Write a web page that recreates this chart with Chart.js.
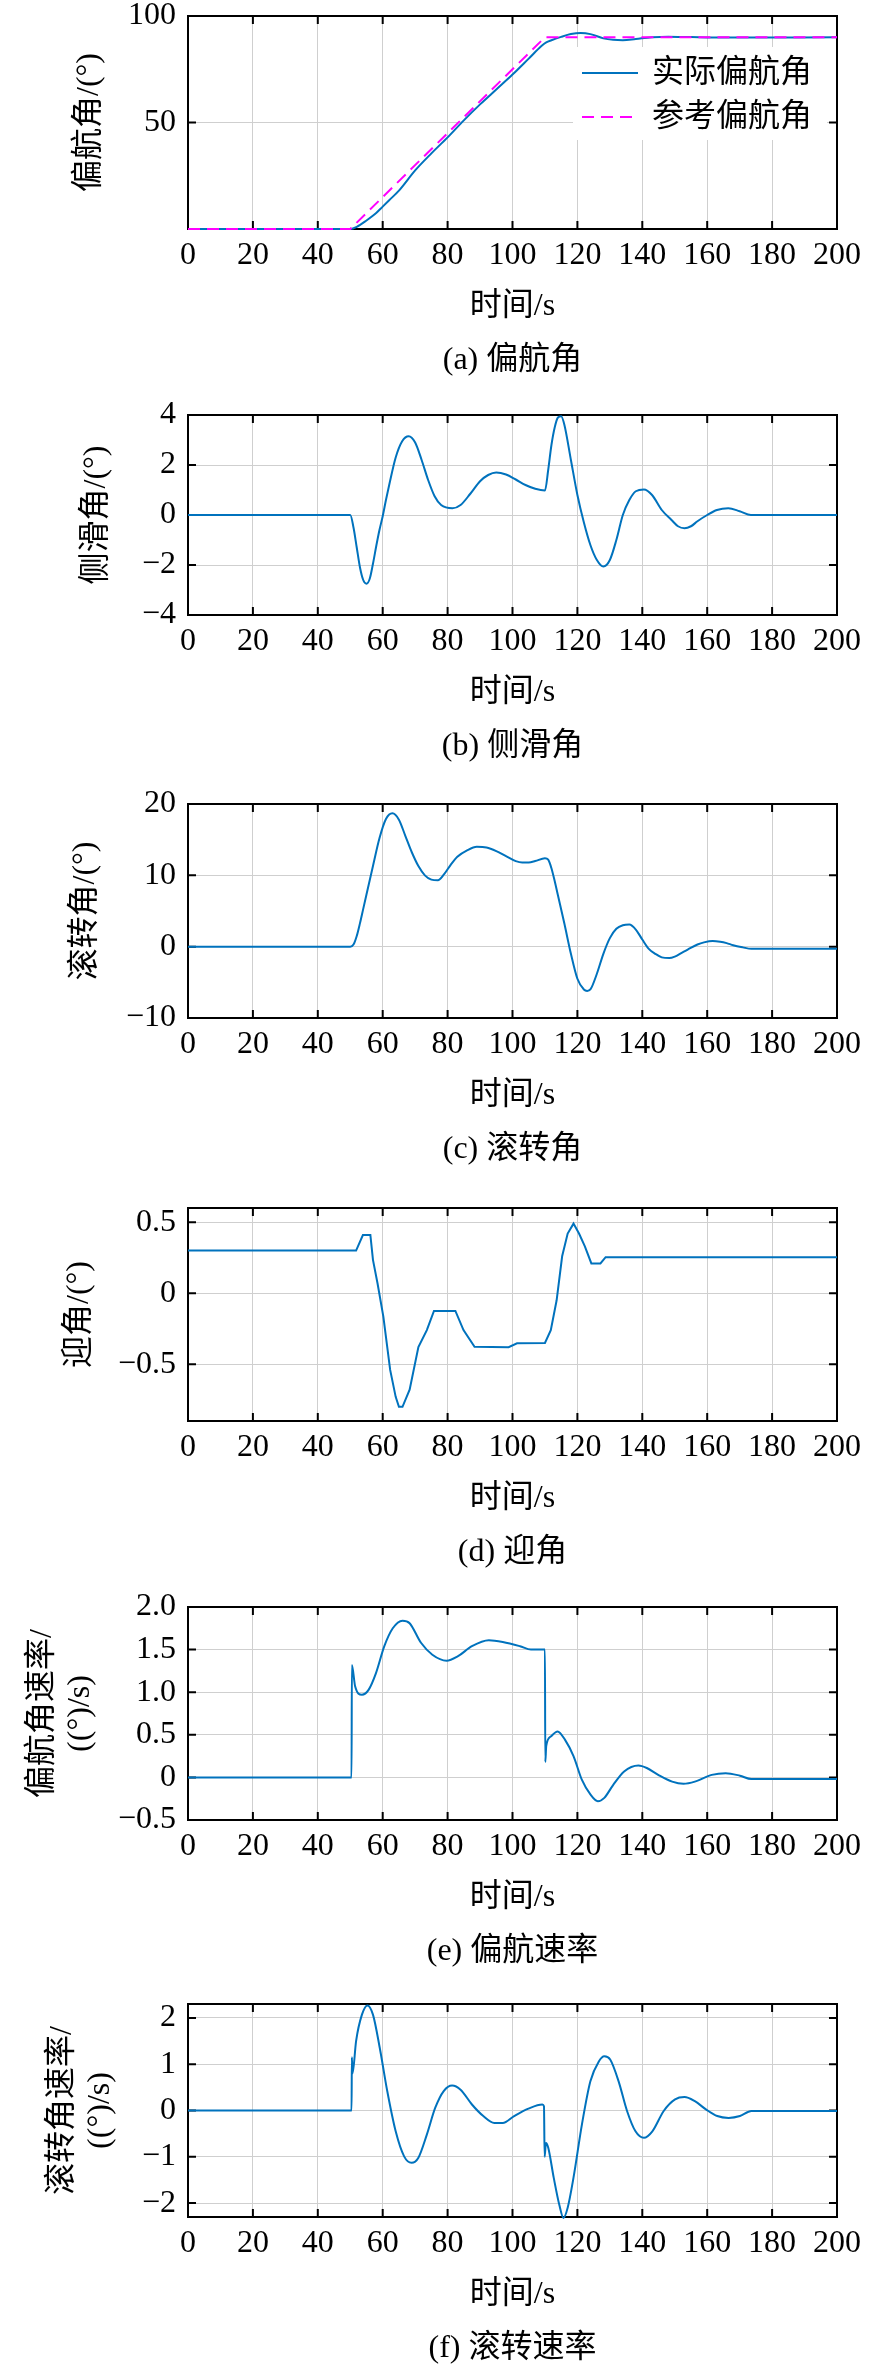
<!DOCTYPE html>
<html>
<head>
<meta charset="utf-8">
<script src="https://cdn.jsdelivr.net/npm/chart.js@4.4.1/dist/chart.umd.min.js"></script>
<style>
  html, body { margin: 0; padding: 0; background: #fff; overflow: hidden; }
  #page { position: relative; width: 886px; height: 2369px; }
  .panel { position: absolute; left: 0; width: 886px; }
</style>
</head>
<body>
<div id="page"></div>
<script>
// time axis
const xTicks = [0, 20, 40, 60, 80, 100, 120, 140, 160, 180, 200];

// (a) yaw angle
const yawRefT = [0, 50, 110, 200];
const yawRefV = [0, 0, 90, 90];
const yawT = [0, 50, 52, 55, 58, 60, 62, 65, 70, 75, 80, 85, 90, 95, 100, 105, 109, 110.4, 112, 115, 118, 121, 124, 128, 131, 134, 138, 143, 148, 155, 165, 200];
const yawV = [0, 0, 1, 4, 7.5, 10.5, 13.5, 18, 27.5, 35.5, 43, 51, 58.5, 65.5, 72.5, 80, 86, 87.6, 88.6, 90.2, 91.5, 92, 91.5, 89.5, 88.8, 88.6, 89.2, 90, 90.3, 90.1, 89.9, 90];
const yawTicks = [50, 100];

// (b) sideslip
const betaT = [0, 50, 51, 52, 53, 54, 55, 56, 57, 58, 59, 60, 61, 62, 64, 66, 68, 70, 72, 74, 76, 78, 81.5, 84, 87, 90, 92.5, 95, 98, 101, 104, 107, 110, 111, 112, 113, 114, 115, 116, 118, 120, 122, 124, 126, 128, 130, 132, 134, 136, 138, 140.5, 143, 146, 149, 151, 153, 155, 157, 160, 163, 166.5, 170, 173.5, 200];
const betaV = [0, 0, -0.5, -1.3, -2.1, -2.6, -2.75, -2.55, -1.95, -1.25, -0.6, -0.05, 0.6, 1.2, 2.3, 2.95, 3.15, 2.9, 2.2, 1.4, 0.75, 0.4, 0.27, 0.4, 0.85, 1.35, 1.6, 1.7, 1.62, 1.42, 1.2, 1.05, 0.98, 1.8, 2.8, 3.5, 3.9, 3.95, 3.6, 2.2, 0.8, -0.3, -1.2, -1.8, -2.06, -1.8, -1.0, 0.0, 0.6, 0.95, 1.02, 0.8, 0.2, -0.2, -0.45, -0.53, -0.45, -0.25, 0.0, 0.2, 0.27, 0.15, 0, 0];
const betaTicks = [-4, -2, 0, 2, 4];

// (c) roll angle
const rollT = [0, 50, 51, 52, 53, 54, 55, 57, 59, 61, 63, 65, 67, 69, 71, 73, 75, 77, 79, 81, 83, 86, 89, 92, 95, 98, 101, 103, 105, 107, 110, 111, 112, 113, 114, 116, 118, 120, 122, 123, 124, 126, 128, 130, 132, 134, 136, 138, 140, 142, 144, 146, 148.3, 150, 152, 154, 157, 159, 161.7, 164, 166, 168, 171, 173.6, 200];
const rollV = [0, 0, 0.3, 1.5, 3.3, 5.3, 7.3, 11.3, 15.2, 17.9, 18.7, 17.8, 15.5, 13.2, 11.3, 10.0, 9.4, 9.3, 10.2, 11.5, 12.6, 13.5, 14.0, 13.9, 13.4, 12.7, 12.0, 11.8, 11.8, 12.0, 12.4, 12.2, 11.0, 9.2, 7.2, 3.2, -1.0, -4.5, -6.0, -6.2, -6.0, -3.8, -1.0, 1.2, 2.5, 3.0, 3.1, 2.4, 1.0, -0.3, -1.0, -1.5, -1.6, -1.4, -0.9, -0.4, 0.3, 0.6, 0.8, 0.7, 0.5, 0.2, -0.1, -0.3, -0.3];
const rollTicks = [-10, 0, 10, 20];

// (d) angle of attack
const aoaT = [0, 51.8, 53.9, 56.2, 57, 58.4, 60.2, 62.3, 64, 65, 66.1, 68.3, 71, 73.6, 75.8, 82.4, 84.9, 88.3, 98.8, 101.4, 110, 111.8, 113.6, 115.3, 117, 118.8, 120.5, 122.3, 124.3, 127.1, 128.7, 200];
const aoaV = [0.3, 0.3, 0.41, 0.41, 0.235, 0.07, -0.165, -0.54, -0.73, -0.8, -0.8, -0.68, -0.38, -0.26, -0.125, -0.125, -0.26, -0.377, -0.38, -0.353, -0.35, -0.26, -0.05, 0.26, 0.42, 0.49, 0.42, 0.33, 0.21, 0.21, 0.254, 0.254];
const aoaTicks = [-0.5, 0, 0.5];

// (e) yaw rate
const rT = [0, 50.4, 50.5, 51.5, 53.6, 55.7, 57.9, 60.5, 63.1, 66.1, 68.3, 71.8, 75.3, 79.7, 83.1, 87.5, 92.7, 97, 102.3, 105.7, 110, 110.1, 110.4, 111.8, 113.9, 116.2, 118.8, 121.4, 124, 126.3, 128.3, 131, 134.4, 138.8, 141.4, 144.9, 149.2, 152.7, 156.2, 161.4, 165.7, 170.1, 173.6, 200];
const rV = [0, 0, 1.32, 1.07, 0.97, 1.03, 1.22, 1.54, 1.75, 1.84, 1.81, 1.58, 1.44, 1.37, 1.42, 1.54, 1.61, 1.59, 1.54, 1.5, 1.5, 0.18, 0.37, 0.48, 0.54, 0.44, 0.25, -0.03, -0.2, -0.28, -0.24, -0.09, 0.07, 0.14, 0.11, 0.03, -0.05, -0.075, -0.05, 0.03, 0.05, 0.02, -0.02, -0.02];
const rTicks = [-0.5, 0, 0.5, 1.0, 1.5, 2.0];

// (f) roll rate
const pT = [0, 50.4, 50.5, 50.7, 51.8, 53.6, 55.3, 57, 59.1, 61.4, 64, 66.6, 68.9, 71, 73.6, 76.2, 78.8, 81.4, 84, 87.5, 91, 94.4, 97, 100.5, 104.9, 109.2, 109.7, 109.9, 110.3, 111, 112.7, 114.4, 115.7, 117, 118.8, 121.4, 124, 126.6, 128.3, 130.1, 132.7, 135.3, 137.9, 140.5, 143.1, 146.6, 150.1, 153, 156.2, 159.7, 163.1, 166.6, 170.1, 173.6, 200];
const pV = [0, 0, 1.15, 0.8, 1.5, 2.07, 2.27, 2.07, 1.35, 0.42, -0.45, -0.99, -1.13, -1.02, -0.52, 0.06, 0.42, 0.54, 0.45, 0.13, -0.12, -0.27, -0.27, -0.12, 0.04, 0.13, 0.09, -1.0, -0.7, -0.8, -1.45, -2.03, -2.32, -2.1, -1.45, -0.3, 0.63, 1.06, 1.17, 1.1, 0.63, -0.01, -0.45, -0.59, -0.45, -0.01, 0.24, 0.29, 0.2, 0.02, -0.12, -0.16, -0.12, -0.01, -0.01];
const pTicks = [-2, -1, 0, 1, 2];

const FONT = '"Liberation Serif", "Noto Sans CJK SC", serif';
const BLUE = '#0072bd';
const MAGENTA = '#ff00ff';
const PAD_TOP = 36;

function pts(t, v) { return t.map((x, i) => ({x: x, y: v[i]})); }
function minus(v) { return v < 0 ? '\u2212' + Math.abs(v) : String(v); }
function oneDec(v) { return v === 0 ? '0' : (v < 0 ? '\u2212' : '') + Math.abs(v).toFixed(1); }

// black box + inward tick marks, like matlab (under the curves)
const framePlugin = {
  id: 'frame',
  beforeDatasetsDraw(chart) {
    const {ctx, chartArea: a, scales: {x, y}} = chart;
    ctx.save();
    ctx.strokeStyle = '#000';
    ctx.lineWidth = 2;
    ctx.beginPath();
    x.ticks.forEach(t => {
      const px = x.getPixelForValue(t.value);
      ctx.moveTo(px, a.bottom); ctx.lineTo(px, a.bottom - 8);
      ctx.moveTo(px, a.top); ctx.lineTo(px, a.top + 8);
    });
    y.ticks.forEach(t => {
      const py = y.getPixelForValue(t.value);
      ctx.moveTo(a.left, py); ctx.lineTo(a.left + 8, py);
      ctx.moveTo(a.right, py); ctx.lineTo(a.right - 8, py);
    });
    ctx.stroke();
    ctx.strokeRect(a.left, a.top, a.right - a.left, a.bottom - a.top);
    ctx.restore();
  }
};

// legend sitting inside the plot, white box
const boxLegend = {
  id: 'boxLegend',
  beforeDatasetsDraw(chart, args, opts) {
    if (!opts.show) return;
    const {ctx, chartArea: a} = chart;
    ctx.save();
    ctx.fillStyle = '#fff';
    ctx.fillRect(a.left + opts.left, a.top + opts.top, opts.width, opts.height);
    ctx.font = '32px ' + FONT;
    ctx.textBaseline = 'middle';
    ctx.textAlign = 'left';
    chart.data.datasets.forEach((ds, i) => {
      const yy = a.top + opts.rows[i];
      ctx.strokeStyle = ds.borderColor;
      ctx.lineWidth = ds.borderWidth;
      ctx.setLineDash(ds.borderDash || []);
      ctx.beginPath();
      ctx.moveTo(a.left + opts.lineX0, yy);
      ctx.lineTo(a.left + opts.lineX1, yy);
      ctx.stroke();
      ctx.setLineDash([]);
      ctx.fillStyle = '#000';
      ctx.fillText(ds.label, a.left + opts.textX, yy + 1);
    });
    ctx.restore();
  }
};

function makePanel(p) {
  const div = document.createElement('div');
  div.className = 'panel';
  const H = PAD_TOP + p.h + 160;
  div.style.top = (p.top - PAD_TOP) + 'px';
  div.style.height = H + 'px';
  const cv = document.createElement('canvas');
  div.appendChild(cv);
  document.getElementById('page').appendChild(div);

  new Chart(cv, {
    type: 'line',
    data: { datasets: p.datasets },
    options: {
      responsive: true,
      maintainAspectRatio: false,
      animation: false,
      events: [],
      layout: { padding: { top: PAD_TOP, left: 0, right: 49, bottom: 0 } },
      elements: { point: { radius: 0 } },
      scales: {
        x: {
          type: 'linear',
          min: 0,
          max: 200,
          afterBuildTicks: s => { s.ticks = xTicks.map(v => ({value: v})); },
          afterFit: s => { s.height = 112.8; },
          grid: { color: '#cfcfcf', lineWidth: 1, drawTicks: false },
          border: { display: false },
          ticks: { autoSkip: false, maxRotation: 0, padding: 7, color: '#000',
                   font: { family: FONT, size: 32 } },
          title: { display: true, text: '时间/s', color: '#000',
                   font: { family: FONT, size: 32 }, padding: { top: 0, bottom: 15.6 } }
        },
        y: {
          min: p.min,
          max: p.max,
          afterBuildTicks: s => { s.ticks = p.ticks.map(v => ({value: v})); },
          afterFit: s => { s.width = 188; },
          grid: { color: '#cfcfcf', lineWidth: 1, drawTicks: false },
          border: { display: false },
          ticks: { padding: 12, color: '#000', callback: p.fmt,
                   font: { family: FONT, size: 32 } },
          title: { display: true, text: p.ylabel, color: '#000',
                   font: { family: FONT, size: 32 }, padding: { top: p.ytitlePad, bottom: 0 } }
        }
      },
      plugins: {
        legend: { display: false },
        tooltip: { enabled: false },
        title: { display: true, position: 'bottom', fullSize: false, text: p.caption,
                 color: '#000', font: { family: FONT, size: 32, weight: 'normal' },
                 padding: { top: 0, bottom: 8.8 } },
        boxLegend: p.legend || { show: false }
      }
    },
    plugins: [boxLegend, framePlugin]
  });
}

function blueLine(label, t, v, smooth) {
  return { label: label, data: pts(t, v), borderColor: BLUE, borderWidth: 2, clip: 3,
           cubicInterpolationMode: smooth ? 'monotone' : 'default', tension: 0, order: 1 };
}

makePanel({
  top: 16, h: 213, min: 0, max: 100, ticks: yawTicks, fmt: minus,
  ylabel: '偏航角/(°)', ytitlePad: 70.8, caption: '(a) 偏航角',
  datasets: [
    blueLine('实际偏航角', yawT, yawV, true),
    { label: '参考偏航角', data: pts(yawRefT, yawRefV), borderColor: MAGENTA, borderWidth: 2,
      borderDash: [12, 7], tension: 0, clip: 3, order: 0 }
  ],
  legend: { show: true, left: 385, top: 31, width: 254, height: 93, rows: [57, 101],
            lineX0: 394, lineX1: 450, textX: 464 }
});

makePanel({
  top: 415, h: 200, min: -4, max: 4, ticks: betaTicks, fmt: minus,
  ylabel: '侧滑角/(°)', ytitlePad: 77, caption: '(b) 侧滑角',
  datasets: [blueLine('侧滑角', betaT, betaV, true)]
});

makePanel({
  top: 804, h: 214, min: -10, max: 20, ticks: rollTicks, fmt: minus,
  ylabel: '滚转角/(°)', ytitlePad: 66, caption: '(c) 滚转角',
  datasets: [blueLine('滚转角', rollT, rollV, true)]
});

makePanel({
  top: 1208, h: 213, min: -0.9, max: 0.6, ticks: aoaTicks, fmt: minus,
  ylabel: '迎角/(°)', ytitlePad: 60, caption: '(d) 迎角',
  datasets: [blueLine('迎角', aoaT, aoaV, false)]
});

makePanel({
  top: 1607, h: 213, min: -0.5, max: 2.0, ticks: rTicks, fmt: oneDec,
  ylabel: ['偏航角速率/', '((°)/s)'], ytitlePad: 23, caption: '(e) 偏航速率',
  datasets: [blueLine('偏航角速率', rT, rV, true)]
});

makePanel({
  top: 2004, h: 213, min: -2.3, max: 2.3, ticks: pTicks, fmt: minus,
  ylabel: ['滚转角速率/', '((°)/s)'], ytitlePad: 43, caption: '(f) 滚转速率',
  datasets: [blueLine('滚转角速率', pT, pV, true)]
});
</script>
</body>
</html>
